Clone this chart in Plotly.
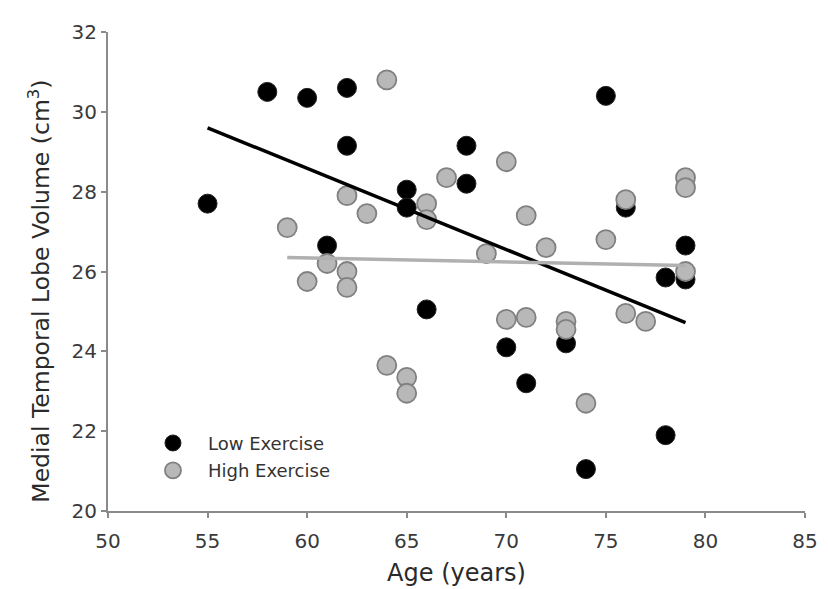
import plotly.graph_objects as go

# Low exercise group
low_age = [55, 58, 60, 62, 62, 61, 65, 65, 66, 68, 68, 70, 71, 73, 74, 75, 76, 78, 78, 79, 79]
low_vol = [27.7, 30.5, 30.35, 30.6, 29.15, 26.65, 28.05, 27.6, 25.05, 29.15, 28.2, 24.1, 23.2, 24.2, 21.05, 30.4, 27.6, 25.85, 21.9, 26.65, 25.8]

# High exercise group
high_age = [59, 60, 61, 62, 62, 62, 63, 64, 64, 65, 65, 66, 66, 67, 69, 70, 70, 71, 71, 72, 73, 73, 74, 75, 76, 76, 77, 79, 79, 79]
high_vol = [27.1, 25.75, 26.2, 27.9, 26.0, 25.6, 27.45, 30.8, 23.65, 23.35, 22.95, 27.7, 27.3, 28.35, 26.45, 28.75, 24.8, 27.4, 24.85, 26.6, 24.75, 24.55, 22.7, 26.8, 27.8, 24.95, 24.75, 28.35, 28.1, 26.0]

# Regression line endpoints
low_fit_x = [55, 79]
low_fit_y = [29.6, 24.72]
high_fit_x = [59, 79]
high_fit_y = [26.35, 26.15]

x_ticks = [50, 55, 60, 65, 70, 75, 80, 85]
y_ticks = [20, 22, 24, 26, 28, 30, 32]

x_title = "Age (years)"
y_title = "Medial Temporal Lobe Volume (cm<sup>3</sup>)"

FONT = "DejaVu Sans, Liberation Sans, Arial, sans-serif"

fig = go.Figure()
fig.add_trace(go.Scatter(
    x=low_age, y=low_vol, mode="markers", name="Low Exercise",
    legendgroup="low",
    marker=dict(size=19, color="#000000", line=dict(color="#222222", width=1)),
))
fig.add_trace(go.Scatter(
    x=high_age, y=high_vol, mode="markers", name="High Exercise",
    legendgroup="high",
    marker=dict(size=19, color="#b8b8b8", line=dict(color="#808080", width=1.8)),
))
fig.add_trace(go.Scatter(
    x=low_fit_x, y=low_fit_y, mode="lines", showlegend=False,
    line=dict(color="#000000", width=3.5),
))
fig.add_trace(go.Scatter(
    x=high_fit_x, y=high_fit_y, mode="lines", showlegend=False,
    line=dict(color="#b0b0b0", width=3.5),
))

axis_common = dict(
    showgrid=False, zeroline=False, showline=True, linecolor="#8a8a8a", linewidth=2,
    ticks="outside", ticklen=5, tickcolor="#8a8a8a", tickwidth=1.5,
    tickfont=dict(family=FONT, size=20, color="#3a3a3a"),
    title_font=dict(family=FONT, size=24, color="#2a2a2a"),
)

fig.update_layout(
    width=828, height=589,
    margin=dict(l=100, r=31, t=16, b=86),
    paper_bgcolor="white", plot_bgcolor="white",
    xaxis=dict(range=[50, 85], tickvals=x_ticks, ticklabelstandoff=6,
               title=dict(text=x_title, standoff=12), **axis_common),
    yaxis=dict(range=[20, 32], tickvals=y_ticks, **axis_common),
    legend=dict(
        x=0.043, y=0.18, xanchor="left", yanchor="top",
        bgcolor="rgba(255,255,255,0.9)", traceorder="grouped", tracegroupgap=1,
        itemwidth=60,
        font=dict(family=FONT, size=18, color="#333333"),
    ),
    showlegend=True,
    annotations=[dict(
        text=y_title, textangle=-90, xref="paper", yref="paper",
        x=-0.0976, y=0.46, xanchor="center", yanchor="middle", showarrow=False,
        font=dict(family=FONT, size=23.5, color="#2a2a2a"),
    )],
)

fig.write_html("out.html")
